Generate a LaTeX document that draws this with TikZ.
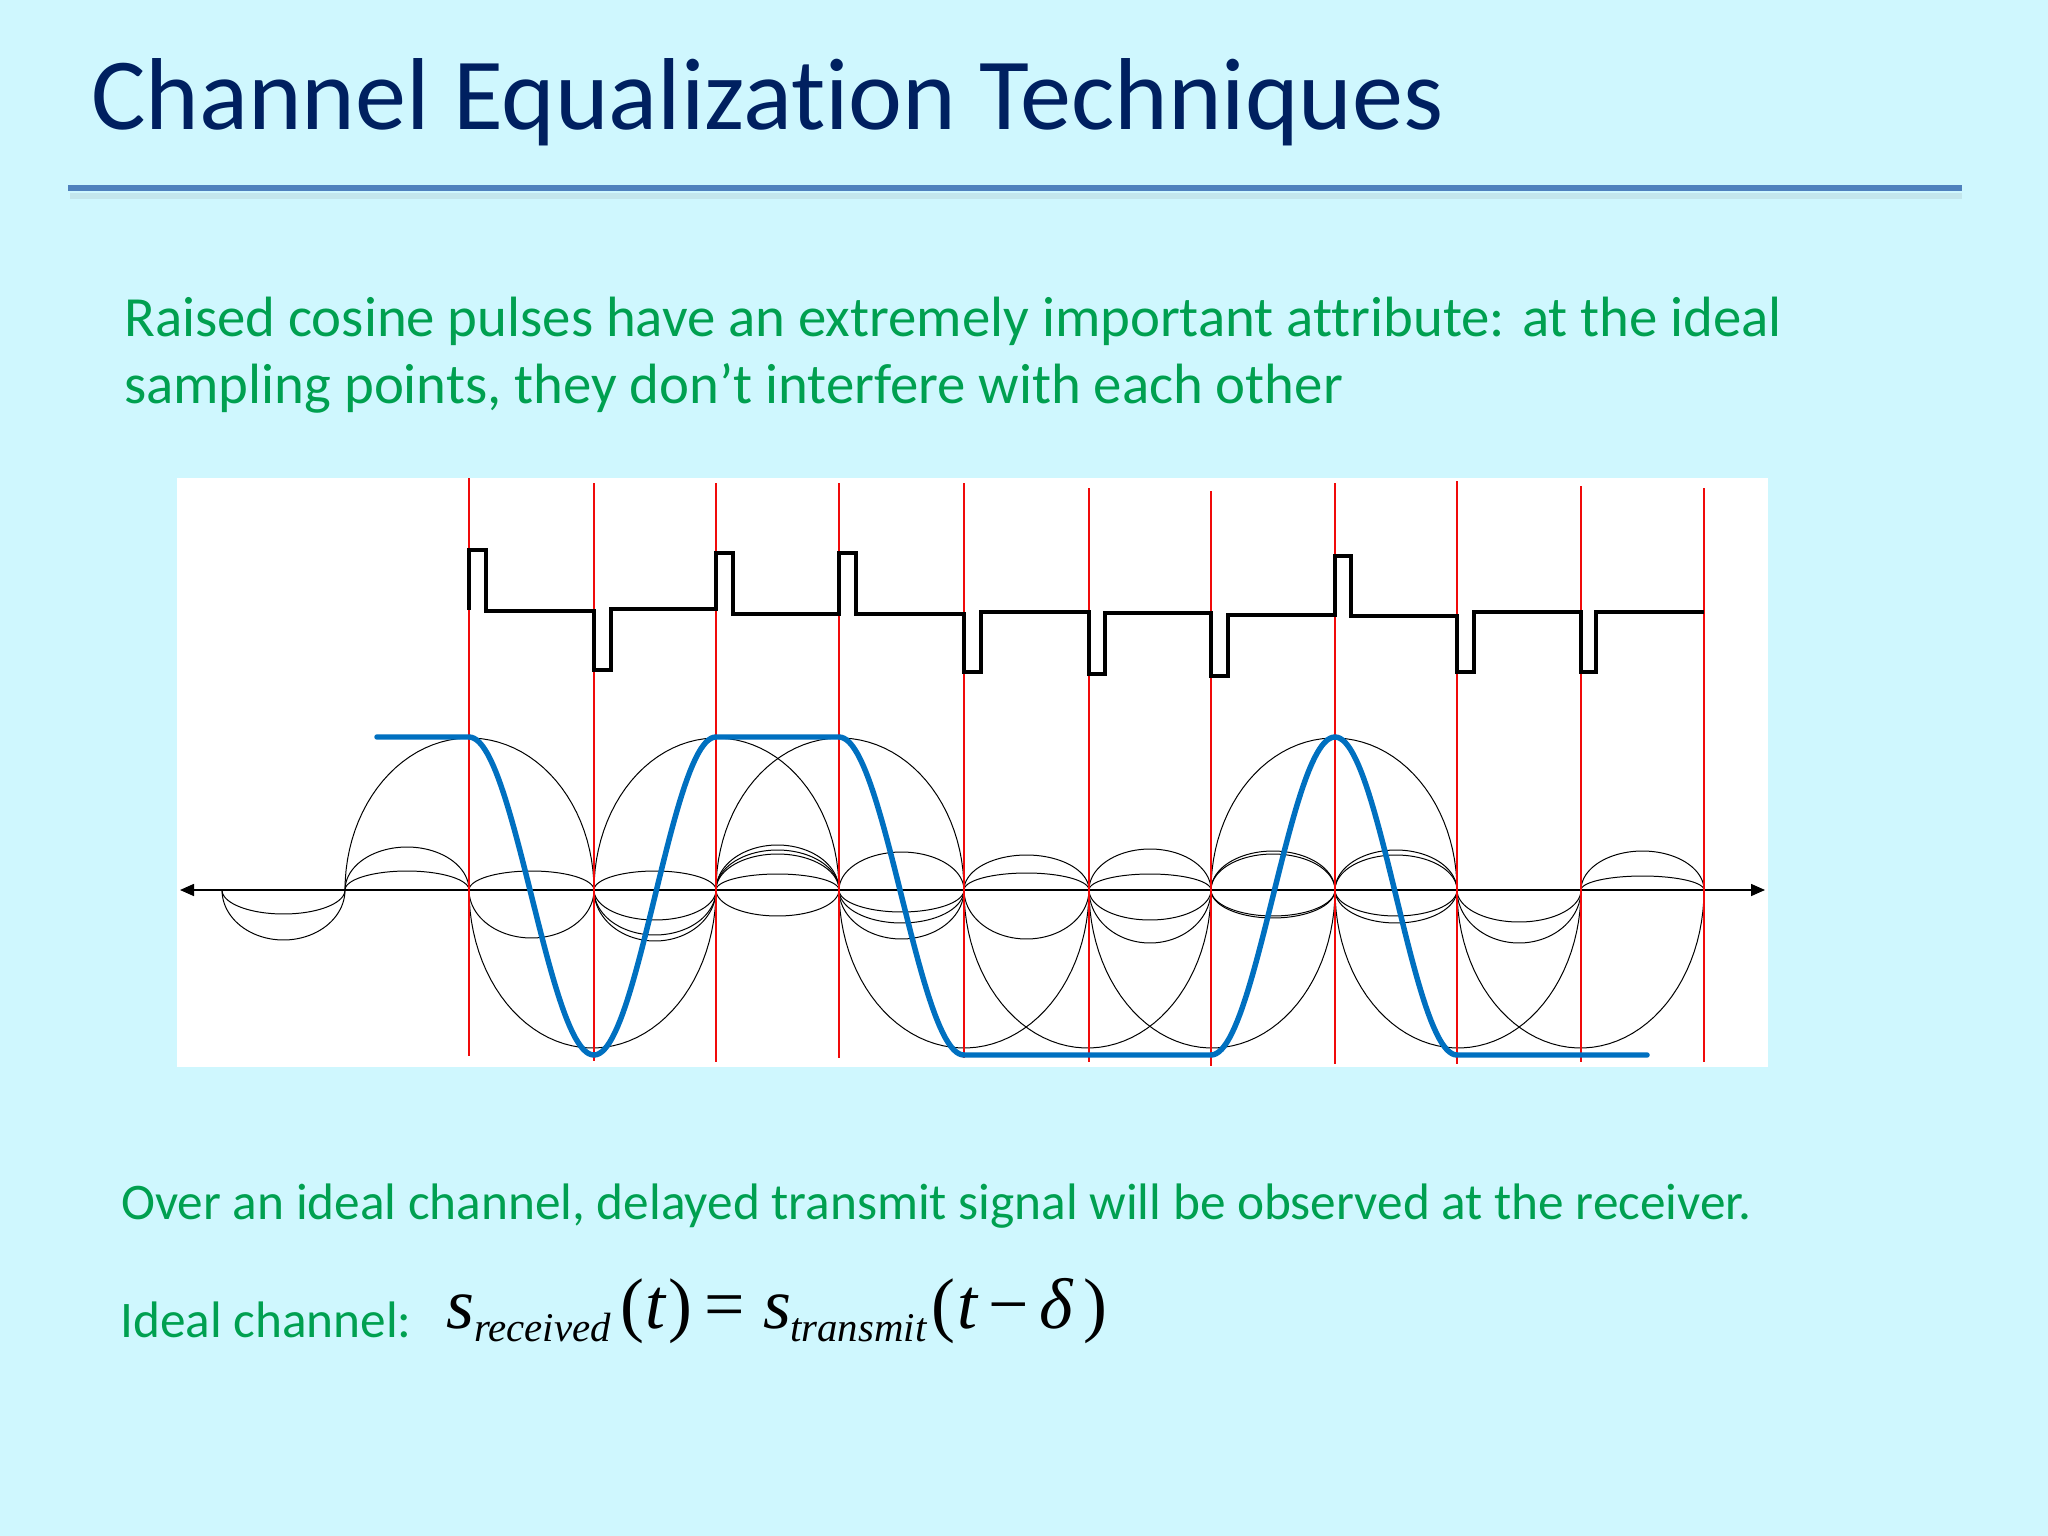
\documentclass[tikz,border=0pt]{standalone}
\usepackage{fontspec}
\setmainfont{Carlito}[Ligatures=NoCommon]
\newfontfamily\timesf{Liberation Serif}[Ligatures=NoCommon]
\usetikzlibrary{arrows.meta}
\definecolor{bg}{RGB}{207,247,254}
\definecolor{titlec}{RGB}{0,32,96}
\definecolor{rulec}{RGB}{79,129,189}
\definecolor{greenc}{RGB}{0,160,80}
\definecolor{bluec}{RGB}{0,112,192}
\definecolor{redc}{RGB}{240,10,10}
\begin{document}
\begin{tikzpicture}[x=1bp,y=-1bp,
  thinc/.style={line width=1pt,black},
  pulsec/.style={line width=3.4pt,black,line join=miter},
  bluewave/.style={line width=5.5pt,bluec,line cap=round,line join=round},
  redline/.style={line width=1.6pt,redc},
  txt/.style={anchor=base west,inner sep=0pt,text=greenc},
  fm/.style={anchor=base west,inner sep=0pt,text=black,font=\timesf\fontsize{72}{74}\selectfont},
  fs/.style={anchor=base west,inner sep=0pt,text=black,font=\timesf\itshape\fontsize{41}{42}\selectfont},
  axisc/.style={line width=1.6pt,black,{Triangle[length=14bp,width=12bp]}-{Triangle[length=14bp,width=12bp]}}]
\fill[bg] (0,0) rectangle (2048,1536);
\useasboundingbox (0,0) rectangle (2048,1536);
% title
\node[anchor=base west,inner sep=0pt,text=titlec] (title) at (91,130)
  {\fontsize{102.6}{120}\selectfont Channel Equalization Techniques};
\draw[line width=6pt,color=bg!60!gray,opacity=0.35] (70,196) -- (1962,196);
\draw[line width=6.5pt,rulec] (68,188) -- (1962,188);
% body text
\node[txt] (line1) at (124,336) {\fontsize{57}{66}\selectfont Raised cosine pulses have an extremely important attribute: at the ideal};
\node[txt] (line2) at (124,403) {\fontsize{57}{66}\selectfont sampling points, they don’t interfere with each other};
% plot area
\fill[white] (177,478) rectangle (1768,1067);
% side lobes and main lobes (half ellipses)
\foreach \a/\b/\h in {
  222/345/24, 222/345/50,
  345/469/-43, 345/469/-19,
  469/594/-19, 469/594/48,
  594/716/-19, 594/716/30, 594/716/45, 594/716/51,
  716/839/-45, 716/839/-40, 716/839/-36, 716/839/-16, 716/839/26,
  839/964/-38, 839/964/22, 839/964/33, 839/964/49,
  964/1089/-35, 964/1089/-17, 964/1089/49,
  1089/1211/-41, 1089/1211/-16, 1089/1211/30, 1089/1211/53,
  1211/1335/-39, 1211/1335/-36, 1211/1335/26, 1211/1335/28,
  1335/1457/-40, 1335/1457/-35, 1335/1457/26, 1335/1457/33,
  1457/1581/32, 1457/1581/53,
  1581/1704/-39, 1581/1704/-14,
  345/594/-152, 469/716/158, 594/839/-152, 716/964/-152,
  839/1089/158, 964/1211/158, 1089/1335/158, 1211/1457/-152,
  1335/1581/158, 1457/1704/158}
  \draw[thinc] plot[domain=180:0,samples=48] ({(\a+\b)/2+(\b-\a)/2*cos(\x)},{890+(\h)*sin(\x)});
% axis
\coordinate (axL) at (180,890);
\coordinate (axR) at (1765,890);
\draw[axisc] (axL) -- (axR);
% red sampling lines
\foreach \xx/\t/\bt in {469/478/1056, 594/483/1061, 716/483/1062, 839/483/1058,
  964/483/1058, 1089/488/1062, 1211/491/1066, 1335/483/1064, 1457/481/1064,
  1581/486/1062, 1704/488/1062}
  \draw[redline] (\xx,\t) -- (\xx,\bt);
% pulse train
\draw[pulsec] (469,610) -- (469,550) -- (486,550) -- (486,611) -- (594,611)
  -- (594,670) -- (611,670) -- (611,609) -- (716,609) -- (716,553) -- (733,553)
  -- (733,614) -- (839,614) -- (839,553) -- (856,553) -- (856,614) -- (964,614)
  -- (964,672) -- (981,672) -- (981,612) -- (1089,612) -- (1089,674) -- (1105,674)
  -- (1105,613) -- (1211,613) -- (1211,676) -- (1228,676) -- (1228,615) -- (1335,615)
  -- (1335,556) -- (1351,556) -- (1351,616) -- (1457,616) -- (1457,672) -- (1474,672)
  -- (1474,612) -- (1581,612) -- (1581,672) -- (1596,672) -- (1596,612) -- (1704,612);
% blue received waveform
\draw[bluewave] (377,737) -- (469,737)
  -- plot[domain=0:180,samples=48] ({469+\x/180*125},{896-159*cos(\x)})
  -- plot[domain=0:180,samples=48] ({594+\x/180*122},{896+159*cos(\x)})
  -- (839,737)
  -- plot[domain=0:180,samples=48] ({839+\x/180*125},{896-159*cos(\x)})
  -- (1211,1055)
  -- plot[domain=0:180,samples=48] ({1211+\x/180*124},{896+159*cos(\x)})
  -- plot[domain=0:180,samples=48] ({1335+\x/180*122},{896-159*cos(\x)})
  -- (1647,1055);
% lower text
\node[txt] (over) at (121,1219) {\fontsize{51.5}{62}\selectfont Over an ideal channel, delayed transmit signal will be observed at the receiver.};
\node[txt] (ideal) at (120,1337) {\fontsize{51.5}{62}\selectfont Ideal channel:};
% formula  s_received(t) = s_transmit(t - delta)
\node[fm] (f1) at (446,1328) {\itshape s};
\node[fs] (f2) at (474,1341) {received};
\node[fm] (f3) at (620,1328) {(};
\node[fm] (f4) at (645,1328) {\itshape t};
\node[fm] (f5) at (668,1328) {)};
\node[fm] (f6) at (704,1328) {=};
\node[fm] (f7) at (763,1328) {\itshape s};
\node[fs] (f8) at (790,1341) {transmit};
\node[fm] (f9) at (931,1328) {(};
\node[fm] (f10) at (957,1328) {\itshape t};
\node[fm] (f11) at (988,1328) {−};
\node[fm] (f12) at (1039,1328) {\itshape δ};
\node[fm] (f13) at (1083,1328) {)};
\end{tikzpicture}
\end{document}
